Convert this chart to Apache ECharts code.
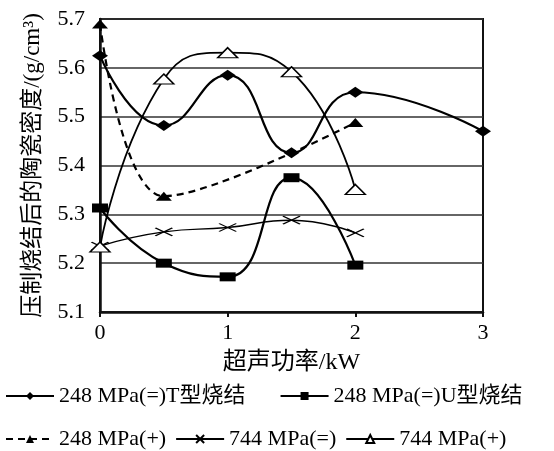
<!DOCTYPE html>
<html>
<head>
<meta charset="utf-8">
<script src="https://cdn.jsdelivr.net/npm/echarts@6/dist/echarts.min.js"></script>
<style>
  html, body { margin: 0; padding: 0; background: #fff; }
  #chart { width: 554px; height: 451px; }
</style>
</head>
<body>
<div id="chart"></div>
<script>
// Ultrasonic power (kW) and sintered ceramic density (g/cm³) for each pressing condition
const powerT = [0, 0.5, 1, 1.5, 2, 3];
const densityT = [5.625, 5.482, 5.585, 5.426, 5.55, 5.47];

const powerU = [0, 0.5, 1, 1.5, 2];
const densityU = [5.313, 5.2, 5.172, 5.375, 5.196];

const power248Plus = [0, 0.5, 2];
const density248Plus = [5.69, 5.337, 5.488];

const power744 = [0, 0.5, 1, 1.5, 2];
const density744Eq = [5.235, 5.264, 5.273, 5.288, 5.262];
const density744Plus = [5.233, 5.577, 5.631, 5.592, 5.351];

const seriesNames = [
  '248 MPa(=)T型烧结',
  '248 MPa(=)U型烧结',
  '248 MPa(+)',
  '744 MPa(=)',
  '744 MPa(+)'
];

const xTicks = [0, 1, 2, 3];
const yTicks = [5.1, 5.2, 5.3, 5.4, 5.5, 5.6, 5.7];

const FONT = "'Liberation Serif', 'Times New Roman', 'Noto Sans CJK SC', serif";
const pairs = (xs, ys) => xs.map((x, i) => [x, ys[i]]);
const crossPath = 'path://M0,0L16,8M16,0L0,8';

const chart = echarts.init(document.getElementById('chart'), null, { renderer: 'canvas' });

chart.setOption({
  backgroundColor: '#fff',
  animation: false,
  textStyle: { fontFamily: FONT, color: '#000' },
  grid: {
    left: 100, right: 71, top: 19, bottom: 139,
    containLabel: false, outerBoundsMode: 'none',
    show: true, borderColor: '#111', borderWidth: 2, backgroundColor: 'transparent'
  },
  xAxis: {
    type: 'value',
    min: xTicks[0], max: xTicks[xTicks.length - 1], interval: 1,
    name: '超声功率/kW',
    nameLocation: 'middle', nameGap: 39,
    nameTextStyle: { fontSize: 24, fontFamily: FONT, color: '#000' },
    axisLine: { show: true, lineStyle: { color: '#111', width: 2.5 } },
    axisTick: { show: true, length: 5, lineStyle: { color: '#111', width: 2 } },
    axisLabel: { fontSize: 22, fontFamily: FONT, color: '#000', margin: 10 },
    splitLine: { show: false }
  },
  yAxis: {
    type: 'value',
    min: yTicks[0], max: yTicks[yTicks.length - 1], interval: 0.1,
    name: '压制烧结后的陶瓷密度/(g/cm³)',
    nameLocation: 'middle', nameRotate: 90, nameGap: 56,
    nameTextStyle: { fontSize: 23, fontFamily: FONT, color: '#000' },
    axisLine: { show: true, lineStyle: { color: '#111', width: 2.5 } },
    axisTick: { show: false },
    axisLabel: {
      fontSize: 22, fontFamily: FONT, color: '#000', margin: 15,
      formatter: v => v.toFixed(1)
    },
    splitLine: { show: true, lineStyle: { color: '#333', width: 1.5 } }
  },
  legend: [
    {
      data: [seriesNames[0], seriesNames[1]],
      left: 5, top: 385, padding: 0,
      itemWidth: 48, itemHeight: 10, itemGap: 34,
      textStyle: { fontSize: 22, fontFamily: FONT, color: '#000' }
    },
    {
      data: [seriesNames[2], seriesNames[3], seriesNames[4]],
      left: 5, top: 428, padding: 0,
      itemWidth: 48, itemHeight: 10, itemGap: 9,
      textStyle: { fontSize: 22, fontFamily: FONT, color: '#000' }
    }
  ],
  series: [
    {
      name: seriesNames[0], type: 'line', smooth: true,
      data: pairs(powerT, densityT),
      symbol: 'diamond', symbolSize: [16, 11],
      lineStyle: { color: '#000', width: 2.2 },
      itemStyle: { color: '#000' }
    },
    {
      name: seriesNames[1], type: 'line', smooth: true,
      data: pairs(powerU, densityU),
      symbol: 'rect', symbolSize: [16, 9],
      lineStyle: { color: '#000', width: 2.2 },
      itemStyle: { color: '#000' }
    },
    {
      name: seriesNames[2], type: 'line', smooth: 0.35,
      data: pairs(power248Plus, density248Plus),
      symbol: 'triangle', symbolSize: [16, 9],
      lineStyle: { color: '#000', width: 2.2, type: [7, 5] },
      itemStyle: { color: '#000' }
    },
    {
      name: seriesNames[3], type: 'line', smooth: true,
      data: pairs(power744, density744Eq),
      symbol: crossPath, symbolSize: [17, 8],
      lineStyle: { color: '#000', width: 1.4 },
      itemStyle: { color: '#000', borderColor: '#000', borderWidth: 1.4 }
    },
    {
      name: seriesNames[4], type: 'line', smooth: true,
      data: pairs(power744, density744Plus),
      symbol: 'triangle', symbolSize: [20, 10],
      lineStyle: { color: '#000', width: 1.8 },
      itemStyle: { color: '#fff', borderColor: '#000', borderWidth: 1.4 }
    }
  ]
});
</script>
</body>
</html>
